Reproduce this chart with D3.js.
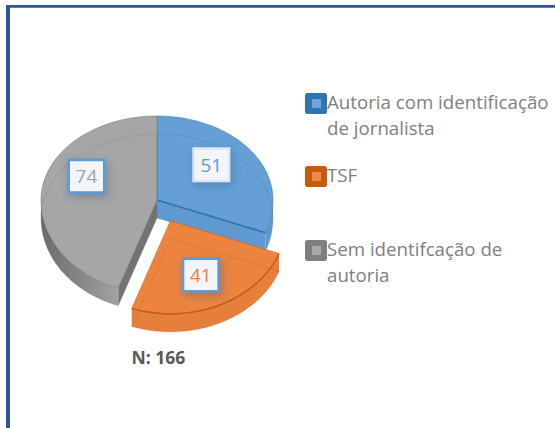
<!DOCTYPE html>
<html><head><meta charset="utf-8">
<script src="https://cdn.jsdelivr.net/npm/d3@7/dist/d3.min.js"></script>
<style>html,body{margin:0;padding:0;background:#fff}svg{display:block}</style>
</head><body><svg id="c" width="555" height="428"></svg>
<script>
const categories = ["Autoria com identificação de jornalista", "TSF", "Sem identifcação de autoria"];
const legendLines = [["Autoria com identificação", "de jornalista"], ["TSF"], ["Sem identifcação de", "autoria"]];
const values = [51, 41, 74];
const note = "N: 166";
const topColors = ["#659fd6", "#ec843f", "#a6a6a6"];
const sideColors = ["#5f99d0", "#e67f3a", "#808080"];
const edgeColors = ["#2e75b6", "#c55a11", "#7b7b7b"];
const swatchColors = ["#2e75b6", "#c55a11", "#7f7f7f"];
const swatchInner = ["#6fa5d8", "#ef8a48", "#a8a8a8"];

const W = 555, H = 428;
const svg = d3.select("#c");
const defs = svg.append("defs");
const f = defs.append("filter").attr("id","sh").attr("x","-40%").attr("y","-40%").attr("width","180%").attr("height","180%");
f.append("feDropShadow").attr("dx",2).attr("dy",3).attr("stdDeviation",4).attr("flood-color","#3a5f88").attr("flood-opacity",0.45);
const gs = defs.append("linearGradient").attr("id","gw").attr("x1","0").attr("x2","1").attr("y1","0").attr("y2","0");
gs.append("stop").attr("offset","0").attr("stop-color","#6a6a6a");
gs.append("stop").attr("offset","1").attr("stop-color","#a2a2a2");

// page frame
svg.append("line").attr("x1",8).attr("x2",8).attr("y1",5).attr("y2",H).attr("stroke","#2f5597").attr("stroke-width",4);
svg.append("line").attr("x1",6).attr("x2",W).attr("y1",6.4).attr("y2",6.4).attr("stroke","#2f5597").attr("stroke-width",2.8);

// projection of the tilted disc
const cx = 157, cy = 200, rx = 116, ryBack = 84, ryFront = 93, depth = 18, explode = 32;
function proj(a, r, o) {
  const c = Math.cos(a), ry = c > 0 ? ryBack : ryFront;
  return [o[0] + rx * r * Math.sin(a), o[1] - ry * r * c];
}
const pie = d3.pie().sort(null).startAngle(0).endAngle(2 * Math.PI);
const arcs = pie(values);
const line = d3.line();
function rim(a0, a1, o, r = 1) {
  const n = Math.max(2, Math.ceil((a1 - a0) / 0.03));
  return d3.range(n + 1).map(i => proj(a0 + (a1 - a0) * i / n, r, o));
}
const down = p => [p[0], p[1] + depth];
const origins = arcs.map((d, i) => {
  if (i !== 1) return [cx, cy];
  const m = (d.startAngle + d.endAngle) / 2;
  const p = proj(m, explode / rx, [cx, cy]);
  return [p[0], p[1] - 2.5];
});
const order = [0, 2, 1];
const labelR = [0.57, 0.62, 0.617];
const labelDy = [-8, 2, -15];
const wallRange = (d) => [Math.max(d.startAngle, Math.PI / 2), Math.min(d.endAngle, 3 * Math.PI / 2)];

order.forEach(i => {
  const d = arcs[i], o = origins[i], g = svg.append("g");
  const top = [o, ...rim(d.startAngle, d.endAngle, o)];
  const [w0, w1] = wallRange(d);
  if (i === 0) {
    const e = proj(d.endAngle, 1, o);
    g.append("path").attr("d", line([o, e, down(e), down(o)]) + "Z").attr("fill", sideColors[i]);
  }
  if (i === 2) {
    const e = proj(d.startAngle, 1, o);
    g.append("path").attr("d", line([o, e, down(e), down(o)]) + "Z").attr("fill", "#737373");
  }
  if (w1 > w0) {
    const a = rim(w0, w1, o);
    g.append("path").attr("d", line([...a, ...a.map(down).reverse()]) + "Z")
      .attr("fill", i === 2 ? "url(#gw)" : sideColors[i]);
  }
  g.append("path").attr("d", line(top) + "Z").attr("fill", topColors[i]).attr("stroke", edgeColors[i]).attr("stroke-opacity", i === 2 ? 0.6 : 0.5).attr("stroke-width", 1);
  g.append("path").attr("d", line(top.map(down)) + "Z").attr("fill", "none").attr("stroke", edgeColors[i]).attr("stroke-opacity", 0.28).attr("stroke-width", 1);
  if (i === 0) {
    const e = proj(d.endAngle, 1, o);
    g.append("path").attr("d", line([o, e])).attr("stroke", edgeColors[i]).attr("stroke-width", 1.6).attr("fill", "none");
  }
  if (i === 1) {
    g.append("path").attr("d", line(rim(d.startAngle, d.endAngle, o))).attr("stroke", edgeColors[i]).attr("stroke-width", 1.4).attr("fill", "none");
  }
});

// data labels
arcs.forEach((d, i) => {
  const m = (d.startAngle + d.endAngle) / 2;
  const p = proj(m, labelR[i], origins[i]);
  const bw = 35.5, bh = 32.5, x = p[0], y = p[1] + labelDy[i];
  const g = svg.append("g");
  g.append("rect").attr("x", x - bw / 2).attr("y", y - bh / 2).attr("width", bw).attr("height", bh)
    .attr("fill", "#f3f5f9").attr("stroke", i === 0 ? "#dbe7f5" : "#5b9bd5").attr("stroke-width", 2.5).attr("filter", "url(#sh)");
  g.append("text").attr("x", x).attr("y", y + 7).attr("text-anchor", "middle")
    .attr("font-family", "Open Sans").attr("font-size", 19).attr("fill", i === 0 ? "#5b9bd5" : i === 1 ? "#ed7d31" : "#a5a5a5").text(d.data);
});

// legend
const legendTop = [93, 166, 240];
categories.forEach((c, i) => {
  const g = svg.append("g").attr("transform", `translate(305,${legendTop[i]})`);
  g.append("rect").attr("width", 22).attr("height", 21).attr("rx", 2.5).attr("fill", swatchColors[i]);
  g.append("rect").attr("x", 7).attr("y", 6).attr("width", 9).attr("height", 9).attr("fill", swatchInner[i]);
  const t = g.append("text").attr("font-family", "Open Sans").attr("font-size", 18.7).attr("fill", "#808080");
  legendLines[i].forEach((s, k) => t.append("tspan").attr("x", 22).attr("y", 16 + k * 26).text(s));
});

svg.append("text").attr("x", 158.5).attr("y", 364).attr("text-anchor", "middle")
  .attr("font-family", "Open Sans").attr("font-weight", 700).attr("font-size", 17.5).attr("fill", "#595959").text(note);
</script></body></html>
